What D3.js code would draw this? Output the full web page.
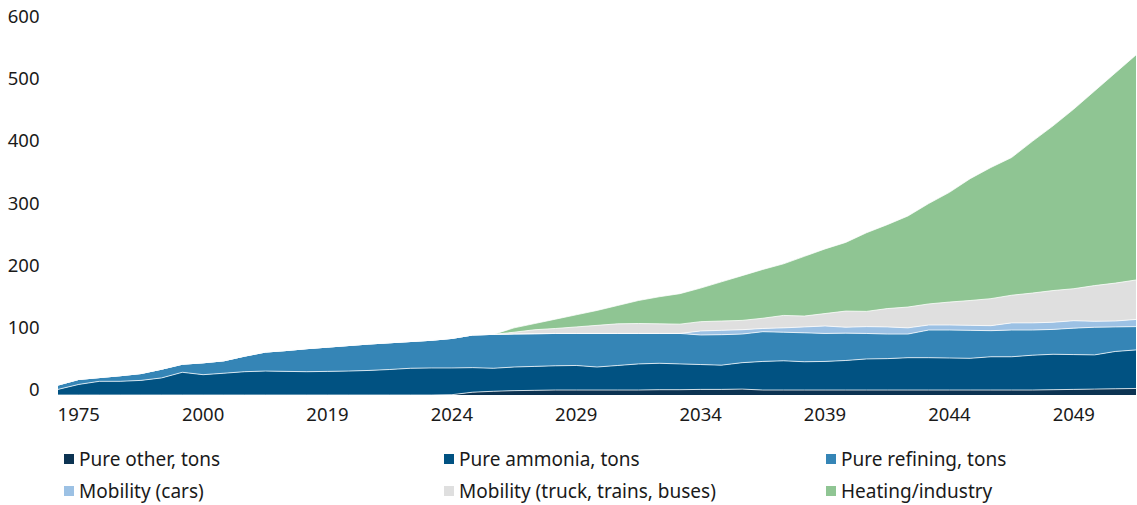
<!DOCTYPE html>
<html>
<head>
<meta charset="utf-8">
<script src="https://cdn.jsdelivr.net/npm/d3@7"></script>
<style>
  body { margin: 0; background: #fff; }
  text { font-family: "Noto Sans", "DejaVu Sans", sans-serif; fill: #1a1a1a; }
</style>
</head>
<body>
<div id="chart"></div>
<script>
// one category per step, the axis only prints every 6th one
var categories = d3.range(53);
var tickLabels = ["1975", "2000", "2019", "2024", "2029", "2034", "2039", "2044", "2049"];
var tickStart = 1, tickEvery = 6;
var yTicks = [0, 100, 200, 300, 400, 500, 600];

var seriesNames = ["Pure other, tons", "Pure ammonia, tons", "Pure refining, tons",
                   "Mobility (cars)", "Mobility (truck, trains, buses)", "Heating/industry"];
var seriesColors = ["#0c3352", "#015282", "#3585b6", "#9cc1e4", "#dfdfdf", "#8fc593"];

var pureOther = [0, 0, 0, 0, 0, 0, 0, 0, 0, 0, 0, 0, 0, 0, 0, 0, 0, 0, 0,
  0.5, 4.5, 6, 7, 7.5, 8, 8, 8, 8, 8, 8.5, 8.5, 9, 9, 9.5,
  8, 8, 8, 8, 8, 8, 8, 8, 8, 8, 8, 8, 8, 8, 8.5, 9, 9.5, 10, 10.5];
var pureAmmonia = [9, 17, 22, 22, 23.5, 27.5, 36.5, 32.7, 35, 37.5, 38.5, 38, 37.5, 38, 38.5, 39.5, 41, 43, 43.5,
  43, 39.5, 37, 38, 38.5, 39, 39.5, 37, 39.5, 42, 42.5, 41.5, 40, 39, 42.5,
  46, 47, 45.5, 46, 47.5, 50, 50.5, 52, 52, 51.5, 51, 53.5, 53.5, 56, 57, 56, 55, 60, 62];
var pureRefining = [7, 8, 6, 9, 11, 14, 13, 19.1, 20, 25, 30.5, 33.5, 37, 39, 41, 42.5, 43, 43, 44.5,
  47.5, 52.5, 54.5, 53, 52.5, 52, 51.5, 54, 51.5, 49, 48, 49, 47.5, 49, 46,
  47.8, 46, 46.5, 45, 44, 41, 39.5, 38, 44.5, 45, 45, 42, 43, 40.5, 40, 42.5, 44.5, 39.5, 37.5];
var mobilityCars = [0, 0, 0, 0, 0, 0, 0, 0, 0, 0, 0, 0, 0, 0, 0, 0, 0, 0, 0,
  0, 0, 0, 0, 0, 0, 0, 0, 0, 0, 0, 0, 6.5, 7, 7,
  5.2, 7, 9.5, 12, 9.5, 11, 11.5, 10, 8.1, 8.1, 8, 8, 11.5, 11.5, 11.5, 12, 9.5, 9.5, 11.5];
var mobilityTruck = [0, 0, 0, 0, 0, 0, 0, 0, 0, 0, 0, 0, 0, 0, 0, 0, 0, 0, 0,
  0, 0, 0, 3, 6.5, 8, 10.5, 13, 15.5, 16, 15.5, 15, 15, 15, 15,
  16.5, 20, 17.5, 20, 26, 24.5, 29.5, 33.5, 33.9, 36.9, 40, 43.5, 44.5, 48, 51, 51.5, 57.5, 61, 63.5];
var heating = [0, 0, 0, 0, 0, 0, 0, 0, 0, 0, 0, 0, 0, 0, 0, 0, 0, 0, 0,
  0, 0, 0, 7, 10, 15, 19.5, 24, 29.5, 37, 43.5, 49, 54, 63, 72,
  78.5, 83, 96, 104, 110.5, 126.5, 135, 146.5, 161.5, 176.5, 196, 211, 221.5, 244, 265, 289, 313, 338, 362];

var width = 1137, height = 505;
var svg = d3.select("#chart").append("svg").attr("width", width).attr("height", height);

var x = d3.scalePoint().domain(categories).range([58, 1136]);
var y = d3.scaleLinear().domain([0, 600]).range([395, 22]);

// rows for the stack, one per category
var allSeries = [pureOther, pureAmmonia, pureRefining, mobilityCars, mobilityTruck, heating];
var rows = categories.map(function(c, i) {
  var row = {cat: c};
  seriesNames.forEach(function(name, s) { row[name] = allSeries[s][i]; });
  return row;
});
var stacked = d3.stack().keys(seriesNames)(rows);

var area = d3.area()
  .x(function(d) { return x(d.data.cat); })
  .y0(function(d) { return y(d[0]); })
  .y1(function(d) { return y(d[1]); });

var topLine = d3.line()
  .x(function(d) { return x(d.data.cat); })
  .y(function(d) { return y(d[1]); });

svg.selectAll("path.layer").data(stacked)
  .enter().append("path")
  .attr("class", "layer")
  .attr("fill", function(d, i) { return seriesColors[i]; })
  .attr("d", area);

// thin white seam on top of each layer
svg.selectAll("path.seam").data(stacked)
  .enter().append("path")
  .attr("class", "seam")
  .attr("fill", "none")
  .attr("stroke", "#fff")
  .attr("stroke-opacity", 0.75)
  .attr("stroke-width", 1)
  .attr("d", topLine);

// y axis labels, no line, no ticks
svg.selectAll("text.ylab").data(yTicks)
  .enter().append("text")
  .attr("class", "ylab")
  .attr("x", 39.5)
  .attr("y", function(d) { return y(d) + 1; })
  .attr("text-anchor", "end")
  .style("font-size", "18.5px")
  .text(function(d) { return d; });

// x axis labels
svg.selectAll("text.xlab").data(tickLabels)
  .enter().append("text")
  .attr("class", "xlab")
  .attr("x", function(d, i) { return x(categories[tickStart + i * tickEvery]); })
  .attr("y", 421)
  .attr("text-anchor", "middle")
  .style("font-size", "18.5px")
  .text(function(d) { return d; });

// legend, 3 columns x 2 rows
var colX = [64, 444, 826], rowY = [466, 498];
var legend = svg.selectAll("g.leg").data(seriesNames)
  .enter().append("g")
  .attr("class", "leg")
  .attr("transform", function(d, i) { return "translate(" + colX[i % 3] + "," + rowY[Math.floor(i / 3)] + ")"; });
legend.append("rect")
  .attr("x", 0).attr("y", -12)
  .attr("width", 10).attr("height", 10)
  .attr("fill", function(d, i) { return seriesColors[i]; });
legend.append("text")
  .attr("x", 15).attr("y", 0)
  .style("font-size", "19px")
  .text(function(d) { return d; });
</script>
</body>
</html>
